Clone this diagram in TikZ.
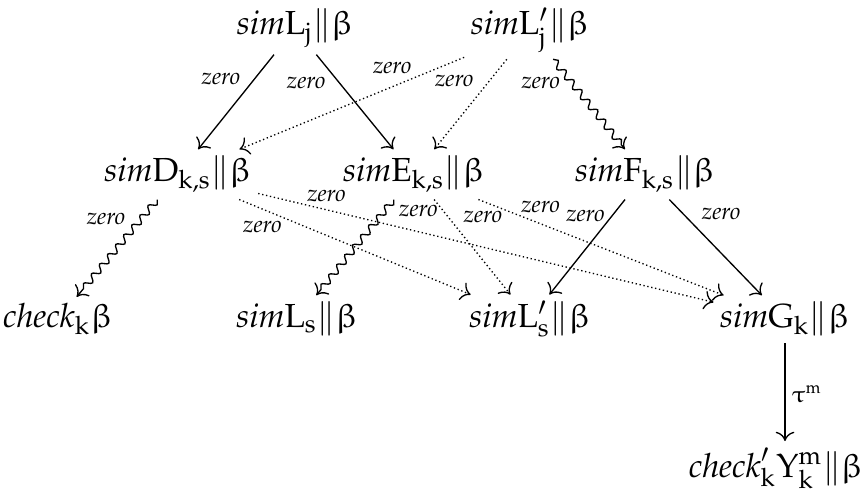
\documentclass[tikz,border=0pt]{standalone}
\usepackage[T1]{fontenc}
\usepackage{mathpazo}
\usepackage{upgreek}
\usetikzlibrary{arrows.meta,decorations.pathmorphing}
\newcommand{\eu}[1]{\mathrm{#1}}
\begin{document}
\begin{tikzpicture}[x=0.3pt,y=-0.3pt,
  obj/.style={anchor=base, inner sep=1.8pt, font=\normalsize},
  lbl/.style={font=\scriptsize, inner sep=0pt},
  arr/.style={-{To[length=2.8pt,width=5.6pt]}, line width=.4pt},
  dotarr/.style={arr, dash pattern=on .4pt off .8pt},
  sq/.style={arr, decorate, decoration={snake, amplitude=1pt, segment length=3.8pt, post length=1.4pt}}]
\useasboundingbox (0,0) rectangle (865,489);
\node[obj] (Lj)  at (295,35)  {$\mathit{sim}\eu{L}_{\eu{j}}\|\upbeta$};
\node[obj] (Lpj) at (530,35)  {$\mathit{sim}\eu{L}'_{\eu{j}}\|\upbeta$};
\node[obj] (D)   at (178,182) {$\mathit{sim}\eu{D}_{\eu{k},\eu{s}}\|\upbeta$};
\node[obj] (E)   at (414,182) {$\mathit{sim}\eu{E}_{\eu{k},\eu{s}}\|\upbeta$};
\node[obj] (F)   at (645,182) {$\mathit{sim}\eu{F}_{\eu{k},\eu{s}}\|\upbeta$};
\node[obj] (C)   at (58,328)  {$\mathit{check}_{\eu{k}}\upbeta$};
\node[obj] (Ls)  at (297,328) {$\mathit{sim}\eu{L}_{\eu{s}}\|\upbeta$};
\node[obj] (Lps) at (530,328) {$\mathit{sim}\eu{L}'_{\eu{s}}\|\upbeta$};
\node[obj] (G)   at (785,328) {$\mathit{sim}\eu{G}_{\eu{k}}\|\upbeta$};
\node[obj] (Y)   at (776,477) {$\mathit{check}'_{\eu{k}}\eu{Y}^{\eu{m}}_{\eu{k}}\|\upbeta$};

\draw[arr] (Lj) -- node[lbl, pos=.26, xshift=-10pt] {$\mathit{zero}$} (D);
\draw[arr] (Lj) -- node[lbl, pos=.30, xshift=-10pt] {$\mathit{zero}$} (E);
\draw[dotarr] (Lpj) -- node[lbl, pos=.32, yshift=5.7pt] {$\mathit{zero}$} (D);
\draw[dotarr] (Lpj) -- node[lbl, pos=.24, xshift=-10.5pt] {$\mathit{zero}$} (E);
\draw[sq] (Lpj) -- node[lbl, pos=.26, xshift=-9.3pt] {$\mathit{zero}$} (F);
\draw[sq] (D) -- node[lbl, pos=.2, xshift=-10.5pt] {$\mathit{zero}$} (C);
\draw[dotarr] (D) -- node[lbl, pos=.1, yshift=-5.4pt] {$\mathit{zero}$} (Lps);
\draw[dotarr] (D) -- node[lbl, pos=.15, yshift=4.2pt] {$\mathit{zero}$} (G);
\draw[sq] (E) -- node[lbl, pos=.12, xshift=10.2pt] {$\mathit{zero}$} (Ls);
\draw[dotarr] (E) -- node[lbl, pos=.18, xshift=10.5pt] {$\mathit{zero}$} (Lps);
\draw[dotarr] (E) -- node[lbl, pos=.24, xshift=1pt, yshift=4.6pt] {$\mathit{zero}$} (G);
\draw[arr] (F) -- node[lbl, pos=.17, xshift=-8pt] {$\mathit{zero}$} (Lps);
\draw[arr] (F) -- node[lbl, pos=.15, xshift=11.4pt] {$\mathit{zero}$} (G);
\draw[arr] (G) -- node[lbl, pos=.52, xshift=6.5pt] {$\uptau^{\eu{m}}$} (G |- Y.north);
\end{tikzpicture}
\end{document}
